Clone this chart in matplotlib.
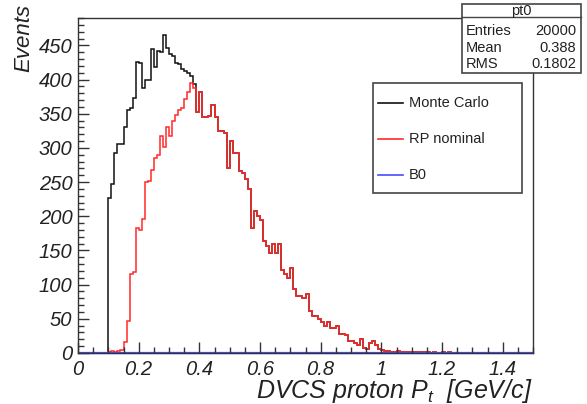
import numpy as np
import matplotlib
matplotlib.use("Agg")
import matplotlib.pyplot as plt
from matplotlib.patches import Rectangle
from matplotlib.lines import Line2D
from matplotlib.ticker import MultipleLocator

plt.rcParams['font.family'] = ['Liberation Sans', 'DejaVu Sans']
plt.rcParams['mathtext.fontset'] = 'custom'
plt.rcParams['mathtext.it'] = 'Liberation Sans:italic'
plt.rcParams['mathtext.rm'] = 'Liberation Sans:italic'

# histogram: 150 bins of 0.01 GeV/c between 0 and 1.5, first filled bin is index 10
n_bins = 150
x_min, x_max = 0.0, 1.5
first_bin = 10

mc_counts = [227, 247, 292, 305, 305, 330, 356, 358, 373, 426,
             424, 387, 399, 400, 444, 418, 441, 440, 465, 446,
             438, 434, 424, 422, 416, 412, 409, 405, 394,
             353, 382, 345, 345, 346, 363, 345, 324, 324, 322,
             271, 310, 293, 293, 266, 264, 254, 240, 183, 207,
             200, 195, 164, 156, 147, 159, 147, 159, 122, 115,
             110, 125, 93, 84, 84, 81, 86, 62, 54, 54,
             50, 45, 40, 45, 37, 37, 40, 28, 28, 26,
             18, 18, 15, 11, 20, 8, 6, 15, 18, 11,
             6, 4, 3, 3, 2, 2, 3, 2, 1, 2,
             1, 2, 1, 1, 2, 1, 1, 0, 1, 0,
             0, 1, 0, 1]

rp_counts = [2, 3, 2, 3, 5, 16, 47, 115, 118, 183,
             180, 196, 250, 252, 268, 285, 290, 318, 302, 330,
             318, 340, 348, 356, 358, 372, 382, 395, 387,
             353, 382, 345, 345, 346, 363, 345, 324, 324, 322,
             271, 310, 293, 293, 266, 264, 254, 240, 183, 207,
             200, 195, 164, 156, 147, 159, 147, 159, 122, 115,
             110, 125, 93, 84, 84, 81, 86, 62, 54, 54,
             50, 45, 40, 45, 37, 37, 40, 28, 28, 26,
             18, 18, 15, 11, 20, 8, 6, 15, 18, 11,
             6, 4, 3, 3, 2, 2, 3, 2, 1, 2,
             1, 2, 1, 1, 2, 1, 1, 0, 1, 0,
             0, 1, 0, 1]

b0_counts = []  # B0 histogram is empty

x_tick_labels = ['0', '0.2', '0.4', '0.6', '0.8', '1', '1.2', '1.4']
legend_labels = ['Monte Carlo', 'RP nominal', 'B0']
stats_rows = [('Entries', '20000'), ('Mean', '0.388'), ('RMS', '0.1802')]


def full_hist(counts):
    h = np.zeros(n_bins)
    h[first_bin:first_bin + len(counts)] = counts
    return h


W, H = 587, 404


def fx(x):
    return x / W


def fy(y):
    return 1 - y / H


edges = np.linspace(x_min, x_max, n_bins + 1)
colors = ['#111111', '#ff2a2a', '#4a4aff']

fig = plt.figure(figsize=(W / 100, H / 100), dpi=100)
ax = fig.add_axes([fx(78), fy(353), fx(533) - fx(78), fy(18) - fy(353)])

ax.stairs(full_hist(mc_counts), edges, color=colors[0], lw=1.1)
ax.stairs(full_hist(rp_counts), edges, color=colors[1], lw=1.1)
ax.stairs(full_hist(b0_counts), edges, color=colors[2], lw=1.6, clip_on=False)

ax.set_xlim(x_min, x_max)
ax.set_ylim(0, 490)

ax.set_xticks(np.arange(0, 1.41, 0.2))
ax.set_xticklabels(x_tick_labels)
ax.xaxis.set_minor_locator(MultipleLocator(0.05))
ax.yaxis.set_major_locator(MultipleLocator(50))
ax.yaxis.set_minor_locator(MultipleLocator(10))
ax.tick_params(which='both', direction='in', top=False, right=False, color='#333333')
ax.tick_params(which='major', length=8, width=1)
ax.tick_params(which='minor', length=4, width=1)
ax.tick_params(axis='x', pad=5, labelsize=14.5)
ax.tick_params(axis='y', pad=4, labelsize=14.5)
for lab in ax.get_xticklabels() + ax.get_yticklabels():
    lab.set_style('italic')
    lab.set_color('#222222')
for s in ax.spines.values():
    s.set_color('#333333')
    s.set_linewidth(1)

fig.text(fx(24), fy(4), 'Events', rotation=90, ha='center', va='top',
         style='italic', fontsize=16, color='#222222')
fig.text(fx(532), fy(391), 'DVCS proton P$_t$  [GeV/c]', ha='right', va='center',
         style='italic', fontsize=18, color='#222222')

# legend box
fig.patches.append(Rectangle((fx(373), fy(193)), fx(522) - fx(373), fy(83) - fy(193),
                             transform=fig.transFigure, facecolor='white',
                             edgecolor='#444444', lw=1.2))
for label, c, yy in zip(legend_labels, colors, [103, 139, 175]):
    fig.lines.append(Line2D([fx(378), fx(403)], [fy(yy), fy(yy)], color=c, lw=1.2,
                            transform=fig.transFigure))
    fig.text(fx(409), fy(yy), label, ha='left', va='center', fontsize=10.5, color='#222222')

# stats box
fig.patches.append(Rectangle((fx(462), fy(73)), fx(581) - fx(462), fy(4) - fy(73),
                             transform=fig.transFigure, facecolor='white',
                             edgecolor='#444444', lw=1.2, zorder=5))
fig.lines.append(Line2D([fx(462), fx(581)], [fy(17), fy(17)], color='#444444', lw=1.0,
                        transform=fig.transFigure, zorder=6))
fig.text(fx(521), fy(10.5), 'pt0', ha='center', va='center', fontsize=10.5,
         color='#222222', zorder=7)
for (name, val), yy in zip(stats_rows, [31, 48, 64]):
    fig.text(fx(466), fy(yy), name, ha='left', va='center', fontsize=10.5,
             color='#222222', zorder=7)
    fig.text(fx(576), fy(yy), val, ha='right', va='center', fontsize=10.5,
             color='#222222', zorder=7)

fig.savefig('out.png', dpi=100)
